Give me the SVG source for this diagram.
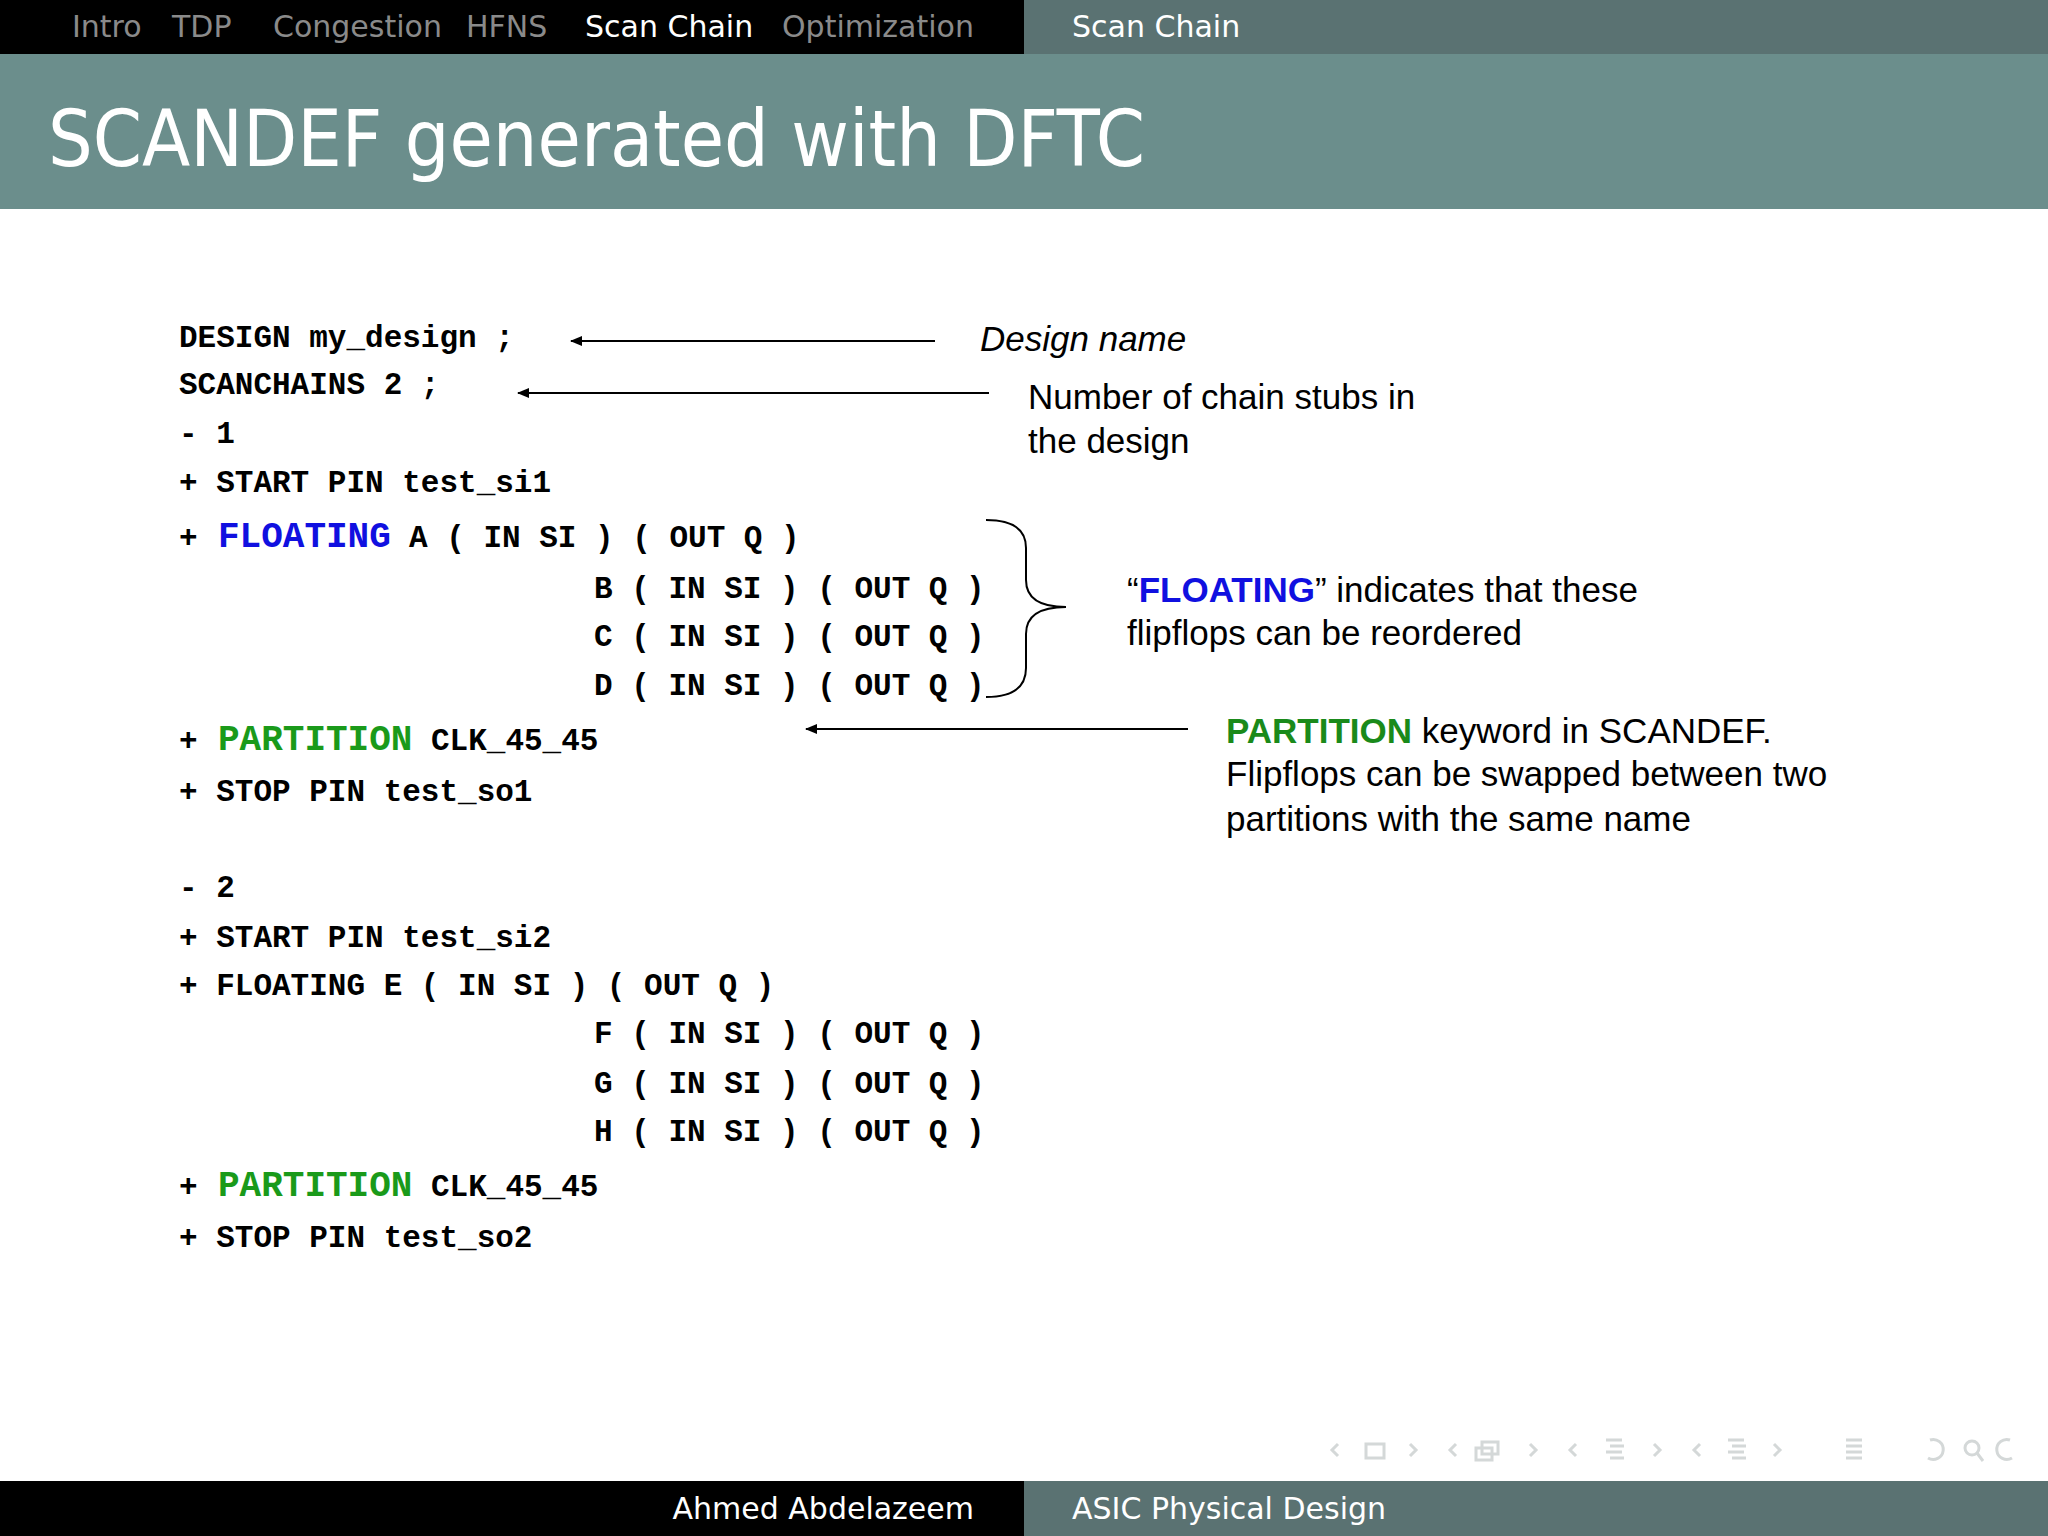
<svg xmlns="http://www.w3.org/2000/svg" width="2048" height="1536" viewBox="0 0 2048 1536">
<defs>
<marker id="ah" markerWidth="12" markerHeight="10" refX="11" refY="5" orient="auto" markerUnits="userSpaceOnUse"><path d="M0,0 L12,5 L0,10 z" fill="#000"/></marker>
<style>
.nav{font-family:"DejaVu Sans",sans-serif;font-size:30px;fill:#8a8a8a}
.navw{font-family:"DejaVu Sans",sans-serif;font-size:30px;fill:#fff}
.code{font-family:"Liberation Mono",monospace;font-weight:bold;font-size:31px;fill:#000;white-space:pre}
.kw{font-size:36px}
.ann{font-family:"Liberation Sans",Arial,sans-serif;font-size:35px;fill:#000}
.ic{fill:none;stroke:#d4d8d8;stroke-width:3}
</style>
</defs>
<rect width="2048" height="1536" fill="#fff"/>
<g id="header">
<rect x="0" y="0" width="1024" height="54" fill="#000"/>
<rect x="1024" y="0" width="1024" height="54" fill="#5a7272"/>
<text class="nav" x="72" y="37">Intro</text>
<text class="nav" x="172" y="37">TDP</text>
<text class="nav" x="273" y="37">Congestion</text>
<text class="nav" x="466" y="37">HFNS</text>
<text class="navw" x="585" y="37">Scan Chain</text>
<text class="nav" x="782" y="37">Optimization</text>
<text class="navw" x="1072" y="37">Scan Chain</text>
<rect x="0" y="54" width="2048" height="155" fill="#6b8e8c"/>
<text x="48" y="166" font-family="DejaVu Sans,sans-serif" font-size="78" fill="#fff" textLength="1097" lengthAdjust="spacingAndGlyphs">SCANDEF generated with DFTC</text>
</g>
<g id="code">
<text class="code" x="179" y="347">DESIGN my_design ;</text>
<text class="code" x="179" y="394">SCANCHAINS 2 ;</text>
<text class="code" x="179" y="443">- 1</text>
<text class="code" x="179" y="492">+ START PIN test_si1</text>
<text class="code" x="179" y="547">+</text>
<text class="code kw" x="218" y="547" fill="#0000e0" style="fill:#1010e0">FLOATING</text>
<text class="code" x="409" y="547">A ( IN SI ) ( OUT Q )</text>
<text class="code" x="594" y="598">B ( IN SI ) ( OUT Q )</text>
<text class="code" x="594" y="646">C ( IN SI ) ( OUT Q )</text>
<text class="code" x="594" y="695">D ( IN SI ) ( OUT Q )</text>
<text class="code" x="179" y="750">+</text>
<text class="code kw" x="218" y="750" style="fill:#1a9a1a">PARTITION</text>
<text class="code" x="431" y="750">CLK_45_45</text>
<text class="code" x="179" y="801">+ STOP PIN test_so1</text>
<text class="code" x="179" y="897">- 2</text>
<text class="code" x="179" y="947">+ START PIN test_si2</text>
<text class="code" x="179" y="995">+ FLOATING E ( IN SI ) ( OUT Q )</text>
<text class="code" x="594" y="1043">F ( IN SI ) ( OUT Q )</text>
<text class="code" x="594" y="1093">G ( IN SI ) ( OUT Q )</text>
<text class="code" x="594" y="1141">H ( IN SI ) ( OUT Q )</text>
<text class="code" x="179" y="1196">+</text>
<text class="code kw" x="218" y="1196" style="fill:#1a9a1a">PARTITION</text>
<text class="code" x="431" y="1196">CLK_45_45</text>
<text class="code" x="179" y="1247">+ STOP PIN test_so2</text>
</g>
<g id="connectors" stroke="#000" stroke-width="2" fill="none">
<line x1="935" y1="341" x2="571" y2="341" marker-end="url(#ah)"/>
<line x1="989" y1="393" x2="518" y2="393" marker-end="url(#ah)"/>
<line x1="1188" y1="729" x2="806" y2="729" marker-end="url(#ah)"/>
<path d="M986,520 Q1026,520 1026,548 L1026,580 Q1026,607 1066,607 Q1026,607 1026,634 L1026,668 Q1026,697 986,697"/>
</g>
<g id="annotations">
<text class="ann" x="980" y="351" font-style="italic">Design name</text>
<text class="ann" x="1028" y="409">Number of chain stubs in</text>
<text class="ann" x="1028" y="453">the design</text>
<text class="ann" x="1127" y="602">“<tspan font-weight="bold" fill="#1010e0">FLOATING</tspan>” indicates that these</text>
<text class="ann" x="1127" y="645">flipflops can be reordered</text>
<text class="ann" x="1226" y="743"><tspan font-weight="bold" fill="#1a8a1a">PARTITION</tspan> keyword in SCANDEF.</text>
<text class="ann" x="1226" y="786">Flipflops can be swapped between two</text>
<text class="ann" x="1226" y="831">partitions with the same name</text>
</g>
<g id="navicons">
<path class="ic" d="M1338,1444 l-6,6 l6,6"/><rect class="ic" x="1366" y="1444" width="18" height="14"/><path class="ic" d="M1410,1444 l6,6 l-6,6"/>
<path class="ic" d="M1456,1444 l-6,6 l6,6"/><rect class="ic" x="1476" y="1448" width="16" height="12"/><rect class="ic" x="1482" y="1442" width="16" height="12"/><path class="ic" d="M1530,1444 l6,6 l-6,6"/>
<path class="ic" d="M1576,1444 l-6,6 l6,6"/><path class="ic" d="M1606,1440h16M1610,1446h14M1606,1452h16M1610,1458h14"/><path class="ic" d="M1654,1444 l6,6 l-6,6"/>
<path class="ic" d="M1700,1444 l-6,6 l6,6"/><path class="ic" d="M1728,1440h16M1732,1446h14M1728,1452h16M1732,1458h14"/><path class="ic" d="M1774,1444 l6,6 l-6,6"/>
<path class="ic" d="M1846,1440h16M1846,1446h16M1846,1452h16M1846,1458h16"/>
<path class="ic" d="M1930,1440 a10,10 0 1 1 -2,18"/><circle class="ic" cx="1972" cy="1448" r="7"/><path class="ic" d="M1977,1453 l6,8"/><path class="ic" d="M2010,1440 a10,10 0 1 0 2,18"/>
</g>
<g id="footer">
<rect x="0" y="1481" width="1024" height="55" fill="#000"/>
<rect x="1024" y="1481" width="1024" height="55" fill="#5a7272"/>
<text class="navw" x="974" y="1519" text-anchor="end">Ahmed Abdelazeem</text>
<text class="navw" x="1072" y="1519">ASIC Physical Design</text>
</g>
</svg>
